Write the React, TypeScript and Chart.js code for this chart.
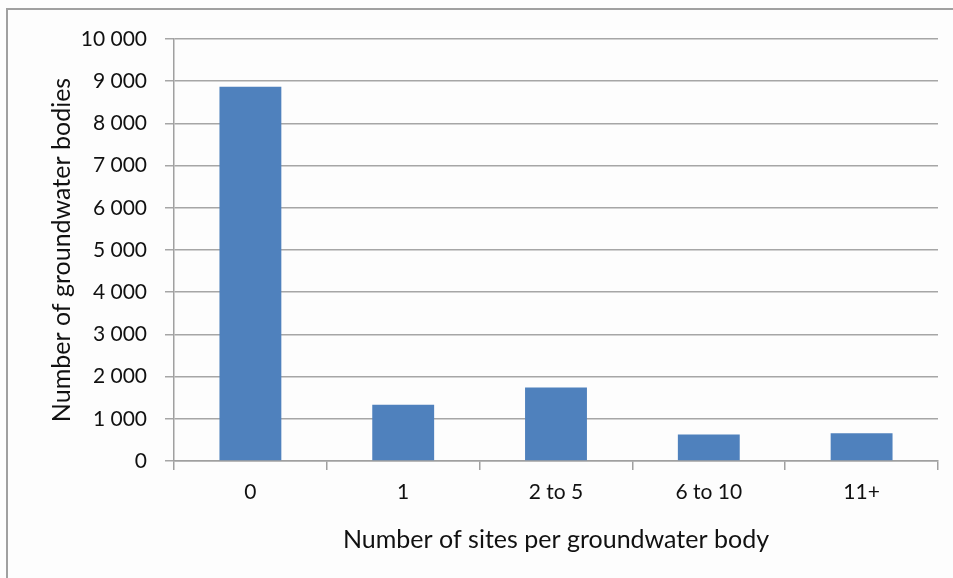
import React, { useEffect, useRef } from "react";
import { Chart, registerables } from "chart.js";

Chart.register(...registerables);

const categories = ["0", "1", "2 to 5", "6 to 10", "11+"];
const groundwaterBodies = [8870, 1330, 1740, 630, 660];
const yTicks = [0, 1000, 2000, 3000, 4000, 5000, 6000, 7000, 8000, 9000, 10000];
const xTitle = "Number of sites per groundwater body";
const yTitle = "Number of groundwater bodies";

const FONT = "Lato";
const fmt = (v: number) => String(v).replace(/\B(?=(\d{3})+(?!\d))/g, " ");

export default function App() {
  const ref = useRef<HTMLCanvasElement>(null);
  useEffect(() => {
    document.body.style.margin = "0";
    const chart = new Chart(ref.current!, {
      type: "bar",
      data: {
        labels: categories,
        datasets: [
          {
            data: groundwaterBodies,
            backgroundColor: "#4f81bd",
            borderWidth: 0,
            barPercentage: 0.405,
            categoryPercentage: 1,
          },
        ],
      },
      options: {
        animation: false,
        responsive: false,
        maintainAspectRatio: false,
        layout: { padding: { top: 39, right: 15, left: 0, bottom: 0 } },
        plugins: { legend: { display: false }, tooltip: { enabled: false } },
        scales: {
          x: {
            grid: {
              offset: true,
              drawOnChartArea: false,
              drawTicks: true,
              tickLength: 9,
              color: "#a0a0a0",
              lineWidth: 1.5,
            },
            border: { color: "#a0a0a0", width: 1.5 },
            ticks: {
              color: "#111",
              font: { family: FONT, size: 21 },
              padding: 10,
              maxRotation: 0,
            },
            title: {
              display: true,
              text: xTitle,
              color: "#111",
              font: { family: FONT, size: 25 },
              padding: { top: 0, bottom: 23 },
            },
            afterFit: (s: any) => {
              s.height = 578 - 461;
            },
          },
          y: {
            min: 0,
            max: 10000,
            afterBuildTicks: (s: any) => {
              s.ticks = yTicks.map((v) => ({ value: v }));
            },
            grid: {
              drawTicks: true,
              tickLength: 9,
              color: "#a6a6a6",
              lineWidth: 1.5,
            },
            border: { color: "#a0a0a0", width: 1.5 },
            ticks: {
              color: "#111",
              font: { family: FONT, size: 21 },
              padding: 18,
              callback: (v: any) => fmt(Number(v)),
            },
            title: {
              display: true,
              text: yTitle,
              color: "#111",
              font: { family: FONT, size: 25 },
              padding: { top: 47, bottom: 0 },
            },
            afterFit: (s: any) => {
              s.width = 174;
            },
          },
        },
      },
    });
    return () => chart.destroy();
  }, []);
  return (
    <div style={{ position: "relative", width: 953, height: 578, background: "#fdfdfd" }}>
      <div
        style={{
          position: "absolute",
          left: 6,
          top: 8,
          right: 0,
          bottom: 0,
          borderLeft: "2px solid #a0a0a0",
          borderTop: "2px solid #a0a0a0",
        }}
      />
      <canvas ref={ref} width={953} height={578} style={{ position: "absolute", left: 0, top: 0 }} />
    </div>
  );
}
